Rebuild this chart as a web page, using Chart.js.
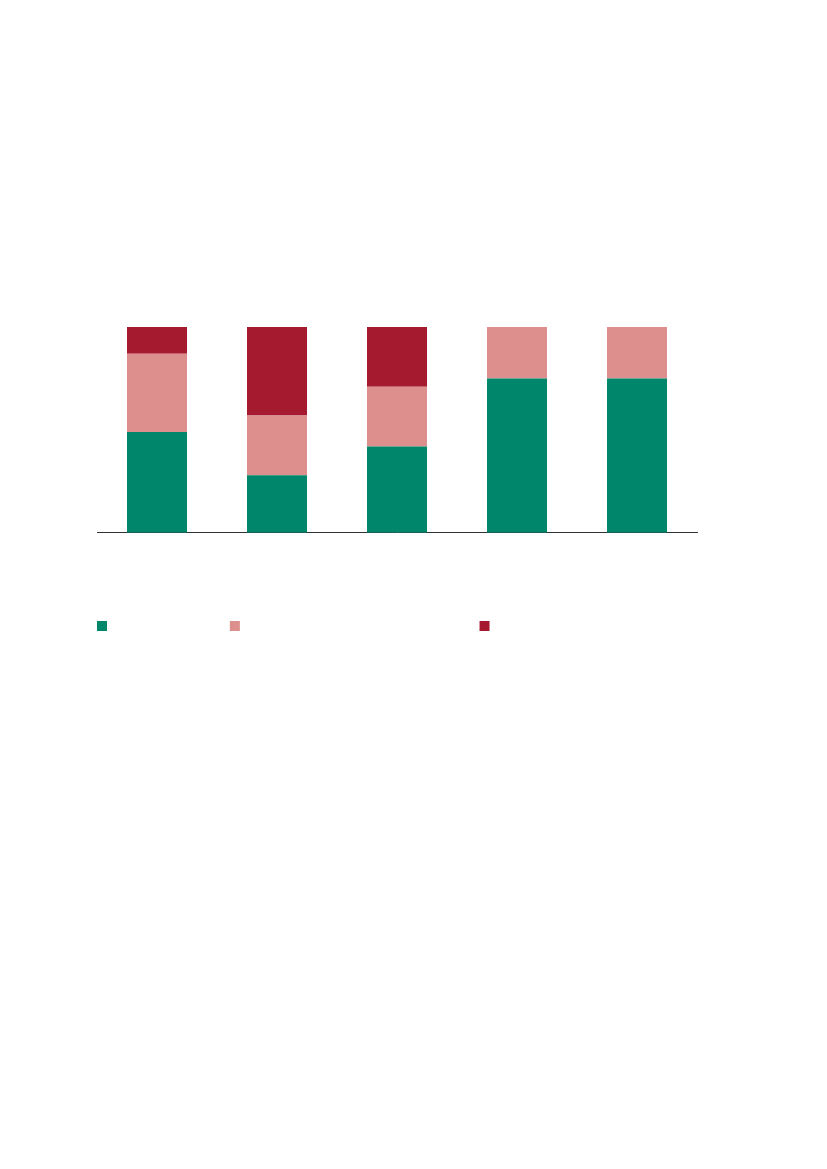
<!DOCTYPE html>
<html>
<head>
<meta charset="utf-8">
<style>
  html, body { margin: 0; padding: 0; background: #ffffff; }
  #wrap { position: relative; width: 827px; height: 1169px; }
  canvas { display: block; }
</style>
<script src="https://cdn.jsdelivr.net/npm/chart.js@4.4.1/dist/chart.umd.min.js"></script>
</head>
<body>
<div id="wrap"><canvas id="c" width="827" height="1169"></canvas></div>
<script>
// Data (shares of 100 per bar)
const categories = ['1', '2', '3', '4', '5'];
const seriesGreen = [49, 28, 42, 75, 75];
const seriesPink  = [38, 29, 29, 25, 25];
const seriesRed   = [13, 43, 29, 0, 0];
// The reference legend shows only colour keys, no visible words; blank labels keep spacing
const legendLabels = [' '.repeat(16), ' '.repeat(32), ' '.repeat(16)];

const colors = ['#00866A', '#DD8F8E', '#A61A2F'];

const ctx = document.getElementById('c');
new Chart(ctx, {
  type: 'bar',
  data: {
    labels: categories,
    datasets: [
      { label: legendLabels[0], data: seriesGreen, backgroundColor: colors[0], borderWidth: 0 },
      { label: legendLabels[1], data: seriesPink,  backgroundColor: colors[1], borderWidth: 0 },
      { label: legendLabels[2], data: seriesRed,   backgroundColor: colors[2], borderWidth: 0 }
    ]
  },
  options: {
    responsive: false,
    animation: false,
    devicePixelRatio: 1,
    layout: { padding: { left: 97, right: 130, top: 327, bottom: 527 } },
    datasets: { bar: { categoryPercentage: 1.0, barPercentage: 0.5 } },
    scales: {
      x: {
        stacked: true,
        grid: { display: false, drawTicks: false },
        ticks: { display: false },
        border: { display: true, color: '#333333', width: 1 },
        afterFit: (scale) => { scale.height = 87; }
      },
      y: {
        stacked: true,
        display: false,
        min: 0,
        max: 100
      }
    },
    plugins: {
      legend: {
        display: true,
        position: 'bottom',
        align: 'start',
        labels: {
          boxWidth: 10,
          boxHeight: 10,
          padding: 0,
          color: 'rgba(0,0,0,0)',
          font: { family: 'DejaVu Sans Mono', size: 12.14 }
        }
      },
      tooltip: { enabled: false },
      title: { display: false }
    }
  }
});
</script>
</body>
</html>
